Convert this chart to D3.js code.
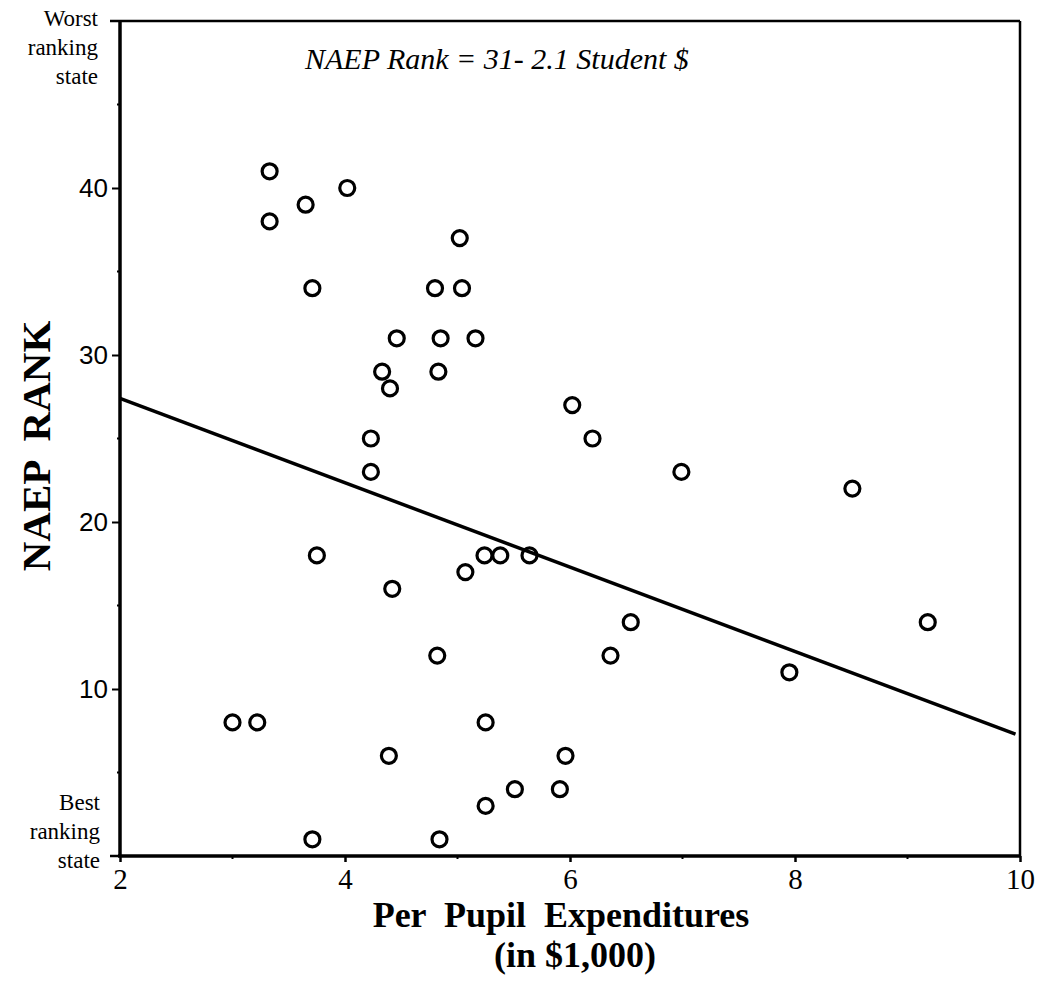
<!DOCTYPE html>
<html>
<head>
<meta charset="utf-8">
<script src="https://cdn.jsdelivr.net/npm/d3@7"></script>
<style>
  html, body { margin: 0; padding: 0; background: #fff; }
  svg { display: block; }
</style>
</head>
<body>
<svg id="chart" width="1046" height="983"></svg>
<script>
// ---- data ----
const spending = [3.33, 3.33, 3.65, 4.02, 5.02, 3.71, 4.80, 5.04, 4.46, 4.85, 5.16, 4.33, 4.83, 4.40,
                  4.23, 4.23, 3.75, 4.42, 5.07, 5.24, 5.38, 5.64, 6.02, 6.20, 6.99, 8.51, 6.54, 6.36,
                  7.95, 9.18, 3.00, 3.22, 4.39, 4.82, 5.25, 5.51, 5.25, 3.71, 4.84, 5.96, 5.91];
const naepRank = [41, 38, 39, 40, 37, 34, 34, 34, 31, 31, 31, 29, 29, 28,
                  25, 23, 18, 16, 17, 18, 18, 18, 27, 25, 23, 22, 14, 12,
                  11, 14, 8, 8, 6, 12, 8, 4, 3, 1, 1, 6, 4];
const fitX = [2, 9.96];
const fitY = [27.4, 7.3];
const xTicks = [2, 4, 6, 8, 10];
const xMinorTicks = [3, 5, 7, 9];
const yTicks = [10, 20, 30, 40];
const yMinorTicks = [5, 15, 25, 35, 45];
const equationText = "NAEP Rank = 31- 2.1 Student $";
const topLabel = ["Worst", "ranking", "state"];
const bottomLabel = ["Best", "ranking", "state"];
const xTitle = ["Per  Pupil  Expenditures", "(in $1,000)"];
const yTitle = "NAEP  RANK";

(function () {
const points = spending.map((s, i) => ({ x: s, y: naepRank[i] }));

// ---- layout ----
const svg = d3.select("#chart");
const pLeft = 120, pRight = 1020, pTop = 21, pBottom = 856;
const x = d3.scaleLinear().domain([2, 10]).range([pLeft, pRight]);
const y = d3.scaleLinear().domain([0, 50]).range([pBottom, pTop]);

const serif = "'Liberation Serif', 'Times New Roman', serif";
const sans = "'Liberation Sans', Arial, sans-serif";

// frame
svg.append("line").attr("x1", pLeft).attr("x2", pRight).attr("y1", pTop).attr("y2", pTop)
  .attr("stroke", "#000").attr("stroke-width", 2.5);
svg.append("line").attr("x1", pRight).attr("x2", pRight).attr("y1", pTop).attr("y2", pBottom)
  .attr("stroke", "#000").attr("stroke-width", 2.5);

// y axis
const yAxis = svg.append("g").attr("transform", `translate(${pLeft},0)`)
  .call(d3.axisLeft(y).tickValues(yTicks).tickSize(8).tickPadding(4).tickFormat(d3.format("d")));
yAxis.select(".domain").remove();
yAxis.selectAll(".tick line").attr("stroke", "#000").attr("stroke-width", 2);
yAxis.selectAll(".tick text").attr("font-family", sans).attr("font-size", 26).attr("fill", "#000");
svg.append("g").selectAll("line").data(yMinorTicks).join("line")
  .attr("x1", pLeft - 3).attr("x2", pLeft).attr("y1", d => y(d)).attr("y2", d => y(d))
  .attr("stroke", "#000").attr("stroke-width", 2);
svg.append("g").selectAll("line").data([0, 50]).join("line")
  .attr("x1", pLeft - 10).attr("x2", pLeft).attr("y1", d => y(d)).attr("y2", d => y(d))
  .attr("stroke", "#000").attr("stroke-width", 2.5);
svg.append("line").attr("x1", pLeft).attr("x2", pLeft).attr("y1", pTop - 1).attr("y2", pBottom + 1)
  .attr("stroke", "#000").attr("stroke-width", 3.5);

// x axis
const xAxis = svg.append("g").attr("transform", `translate(0,${pBottom})`)
  .call(d3.axisBottom(x).tickValues(xTicks).tickSize(6).tickPadding(6).tickFormat(d3.format("d")));
xAxis.select(".domain").remove();
xAxis.selectAll(".tick line").attr("stroke", "#000").attr("stroke-width", 2.5);
xAxis.selectAll(".tick text").attr("font-family", serif).attr("font-size", 29).attr("fill", "#000");
svg.append("g").selectAll("line").data(xMinorTicks).join("line")
  .attr("x1", d => x(d)).attr("x2", d => x(d)).attr("y1", pBottom).attr("y2", pBottom + 3)
  .attr("stroke", "#000").attr("stroke-width", 2);
svg.append("line").attr("x1", pLeft - 2).attr("x2", pRight + 1).attr("y1", pBottom).attr("y2", pBottom)
  .attr("stroke", "#000").attr("stroke-width", 3.5);

// regression line
svg.append("path")
  .datum(fitX.map((v, i) => [v, fitY[i]]))
  .attr("d", d3.line().x(d => x(d[0])).y(d => y(d[1])))
  .attr("fill", "none").attr("stroke", "#000").attr("stroke-width", 3.5);

// points
svg.append("g").selectAll("circle").data(points).join("circle")
  .attr("cx", d => x(d.x)).attr("cy", d => y(d.y)).attr("r", 7.5)
  .attr("fill", "none").attr("stroke", "#000").attr("stroke-width", 3.2);

// equation
svg.append("text").attr("x", 305).attr("y", 69)
  .attr("font-family", serif).attr("font-style", "italic").attr("font-size", 30)
  .attr("fill", "#000").text(equationText);

// side labels
svg.append("text").attr("font-family", serif).attr("font-size", 23).attr("fill", "#000")
  .attr("text-anchor", "end")
  .selectAll("tspan").data(topLabel).join("tspan")
  .attr("x", 98).attr("y", (d, i) => 26 + i * 29).text(d => d);
svg.append("text").attr("font-family", serif).attr("font-size", 23).attr("fill", "#000")
  .attr("text-anchor", "end")
  .selectAll("tspan").data(bottomLabel).join("tspan")
  .attr("x", 100).attr("y", (d, i) => 810 + i * 29).text(d => d);

// axis titles
svg.append("text").attr("font-family", serif).attr("font-weight", "bold").attr("font-size", 36)
  .attr("fill", "#000").attr("text-anchor", "middle").style("white-space", "pre")
  .selectAll("tspan").data(xTitle).join("tspan")
  .attr("x", (d, i) => i === 0 ? 561 : 575).attr("y", (d, i) => 927 + i * 40)
  .text(d => d);

svg.append("text").attr("font-family", serif).attr("font-weight", "bold").attr("font-size", 41)
  .attr("fill", "#000").attr("text-anchor", "middle")
  .style("white-space", "pre")
  .attr("transform", "translate(50,446) rotate(-90)").text(yTitle);
})();
</script>
</body>
</html>
